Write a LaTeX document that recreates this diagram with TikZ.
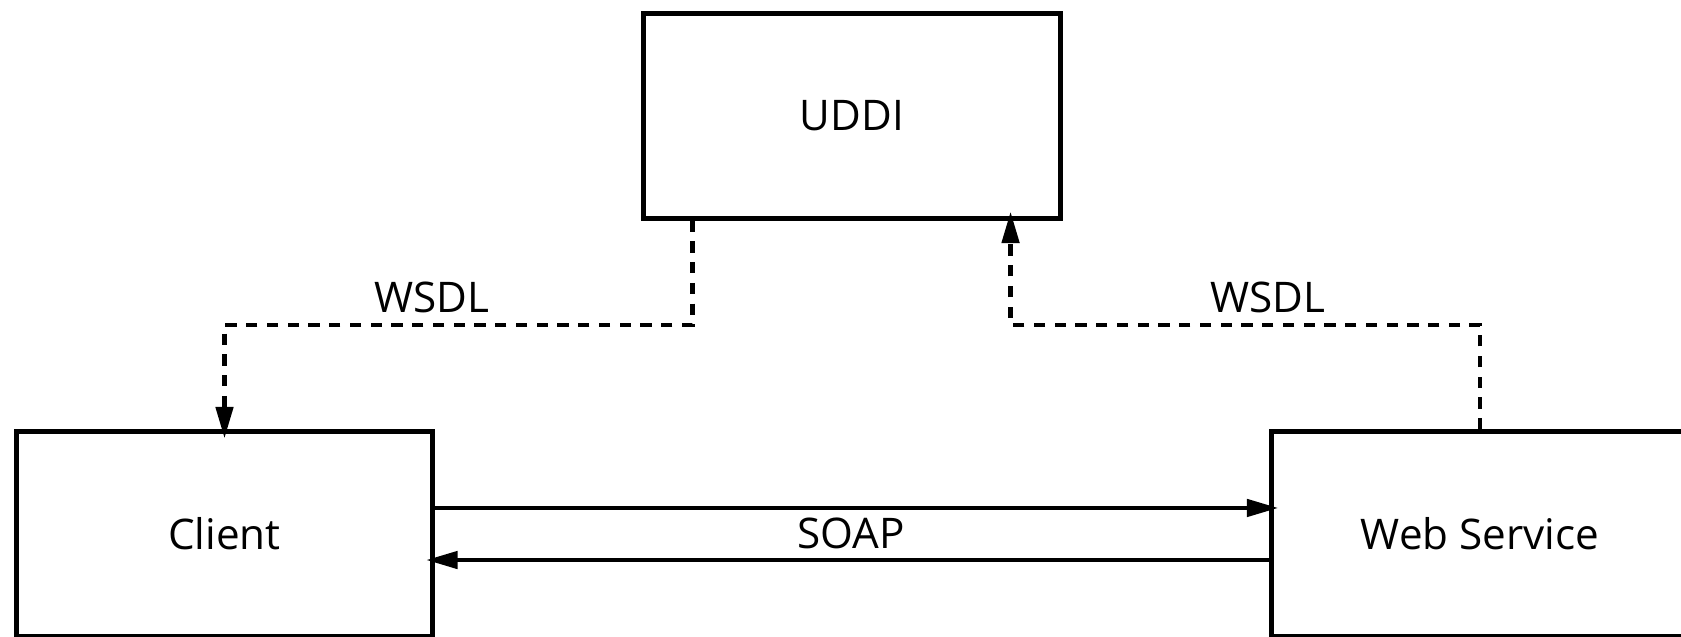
\documentclass[tikz,border=0pt]{standalone}
\usepackage{fontspec}
\setmainfont{Open Sans}
\usetikzlibrary{positioning,arrows.meta}
\tikzset{
  % boxes for the three parties
  party/.style={draw, line width=1.4pt, minimum width=4.16cm, minimum height=2.04cm, font=\fontsize{12}{14}\selectfont},
  % dashed lookup lines
  wsdlline/.style={line width=1.4pt, dash pattern=on 3.2pt off 2.7pt},
  % solid message lines
  soapline/.style={line width=1.4pt},
  % tip of every connector
  tip/.style={-{Triangle[length=9pt,width=4.8pt]}, shorten >=-2.6pt},
  % connector labels
  tag/.style={font=\fontsize{12}{14}\selectfont, inner sep=0pt}
}

\begin{document}
\begin{tikzpicture}[x=0.01cm, y=-0.01cm]

  % picture frame
  \clip (0,0) rectangle (1681,637);

  % the three parties
  \node[party] (uddi)   at (852, 116)   {UDDI};
  \node[party] (client) at (224.5, 534) {Client};
  \node[party] (ws)     at (1480, 534)  {Web Service};

  % level of the horizontal WSDL lines
  \coordinate (bend) at (0, 325);
  % start and end points on the UDDI box
  \coordinate (uddiL) at ([xshift=0.51cm]uddi.south west);
  \coordinate (uddiR) at ([xshift=-0.52cm]uddi.south east);

  % WSDL from UDDI to the client
  \draw[wsdlline, tip] (uddiL) -- (uddiL |- bend) -| (client.north);
  % WSDL from the web service to UDDI
  \draw[wsdlline, tip] (ws.north) -- (ws.north |- bend) -| (uddiR);

  % SOAP messages both ways
  \draw[soapline, tip] ([yshift=7.4pt]client.east) -- ([yshift=7.4pt]ws.west);
  \draw[soapline, tip] ([yshift=-7.4pt]ws.west) -- ([yshift=-7.4pt]client.east);

  % labels on the connectors
  \node[tag] (wsdlL) at (432, 297)  {WSDL};
  \node[tag] (wsdlR) at (1268, 297) {WSDL};
  \node[tag] (soap)  at (851, 533)  {SOAP};

\end{tikzpicture}
\end{document}
